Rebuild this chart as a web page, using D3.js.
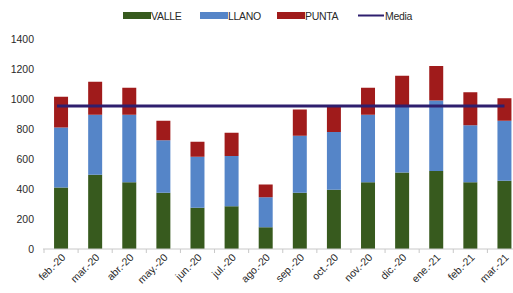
<!DOCTYPE html>
<html><head><meta charset="utf-8">
<script src="https://cdn.jsdelivr.net/npm/d3@7"></script>
<style>body{margin:0;background:#fff}svg{display:block}text{font-family:"Liberation Sans",Arial,sans-serif}</style>
</head><body><svg id="c" width="513" height="293"></svg>
<script>
const categories = ["feb.-20","mar.-20","abr.-20","may.-20","jun.-20","jul.-20","ago.-20","sep.-20","oct.-20","nov.-20","dic.-20","ene.-21","feb.-21","mar.-21"];
const valle = [410,495,445,375,275,285,145,375,395,445,510,520,445,455];
const llano = [400,400,450,350,340,335,200,380,385,450,440,470,380,400];
const punta = [205,220,180,130,100,155,85,175,170,180,205,230,220,150];
const media = 953;
const yTicks = [0,200,400,600,800,1000,1200,1400];
const seriesNames = ["VALLE","LLANO","PUNTA"];
const colors = {VALLE:"#375A1E", LLANO:"#5585C8", PUNTA:"#A01B1B", Media:"#2E1F6E"};

const svg = d3.select("#c");
const x = d3.scaleBand().domain(categories).range([44, 521.5]).paddingInner(0.59).paddingOuter(0.295);
const y = d3.scaleLinear().domain([0,1400]).range([249,39]);

const rows = categories.map((c,i)=>({cat:c, VALLE:valle[i], LLANO:llano[i], PUNTA:punta[i]}));
const stack = d3.stack().keys(seriesNames)(rows);

svg.append("g").selectAll("g").data(stack).join("g")
  .attr("fill", d=>colors[d.key])
  .selectAll("rect").data(d=>d).join("rect")
  .attr("x", d=>x(d.data.cat))
  .attr("width", x.bandwidth())
  .attr("y", d=>y(d[1]))
  .attr("height", d=>y(d[0])-y(d[1]));

// Media line
svg.append("line")
  .attr("x1", x(categories[0]) + x.bandwidth()/2 - 4)
  .attr("x2", x(categories[categories.length-1]) + x.bandwidth()/2)
  .attr("y1", y(media)).attr("y2", y(media))
  .attr("stroke", colors.Media).attr("stroke-width", 3);

// Y axis labels
const ya = svg.append("g").attr("transform","translate(34,0)")
  .call(d3.axisLeft(y).tickValues(yTicks).tickSize(0).tickPadding(0).tickFormat(d3.format("d")));
ya.select(".domain").remove();
ya.selectAll("text").attr("font-size",10.5).attr("fill","#2a2a2a").attr("font-family","Liberation Sans, Arial, sans-serif");

// X axis
const xa = svg.append("g").attr("transform","translate(0,249)");
xa.append("line").attr("x1",43).attr("x2",513).attr("stroke","#c8c8c8");
const step = x.step();
xa.selectAll("line.t").data(categories).join("line").attr("class","t")
  .attr("x1", d=>x(d)-(step-x.bandwidth())/2).attr("x2", d=>x(d)-(step-x.bandwidth())/2)
  .attr("y1",0).attr("y2",4).attr("stroke","#c8c8c8");
xa.selectAll("text").data(categories).join("text")
  .attr("transform", d=>`translate(${x(d)+x.bandwidth()/2+5},9) rotate(-45)`)
  .attr("text-anchor","end").attr("font-size",10.5).attr("fill","#2a2a2a")
  .text(d=>d);

// Legend
const legend = [
  {name:"VALLE", x:123, type:"rect"},
  {name:"LLANO", x:200, type:"rect"},
  {name:"PUNTA", x:277, type:"rect"},
  {name:"Media", x:358, type:"line"}
];
const lg = svg.append("g");
legend.forEach(l=>{
  if(l.type==="rect"){
    lg.append("rect").attr("x",l.x).attr("y",12).attr("width",28).attr("height",7).attr("fill",colors[l.name]);
  } else {
    lg.append("line").attr("x1",l.x).attr("x2",l.x+26).attr("y1",15.5).attr("y2",15.5).attr("stroke",colors.Media).attr("stroke-width",2);
  }
  lg.append("text").attr("x",l.x+(l.type==="rect"?28:27)).attr("y",19.5).attr("font-size",10.5).attr("fill","#2a2a2a").attr("letter-spacing","-0.3").text(l.name);
});
</script></body></html>
